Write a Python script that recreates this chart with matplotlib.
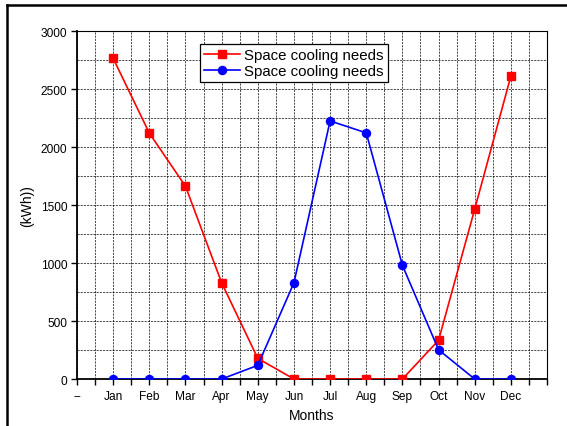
import numpy as np
import matplotlib
matplotlib.use("Agg")
import matplotlib.pyplot as plt
from matplotlib.lines import Line2D

plt.rcParams['font.family'] = ['Liberation Sans', 'DejaVu Sans']

# ---- Data ---- #
months = ["Jan", "Feb", "Mar", "Apr", "May", "Jun",
          "Jul", "Aug", "Sep", "Oct", "Nov", "Dec"]
tick_labels = ["--"] + months + [""]
red_needs = [2765, 2120, 1662, 830, 178, 0, 0, 0, 0, 334, 1465, 2612]
blue_needs = [0, 0, 0, 0, 118, 830, 2225, 2122, 980, 252, 0, 0]
series_label = "Space cooling needs"

fig = plt.figure(figsize=(5.67, 4.27), dpi=100)
ax = fig.add_axes([0.1358, 0.110, 0.829, 0.815])

x = np.arange(1, len(months) + 1)
ax.plot(x, red_needs, color="red", marker="s", markersize=5.5, lw=1.2,
        label=series_label, zorder=3)
ax.plot(x, blue_needs, color="blue", marker="o", markersize=5.8, lw=1.2,
        label=series_label, zorder=3)

ax.set_xlim(0, 13)
ax.set_ylim(0, 3000)
ax.set_xticks(np.arange(0, 14))
ax.set_xticklabels(tick_labels)
ax.set_xticks(np.arange(0.5, 13, 1), minor=True)
ax.set_yticks(np.arange(0, 3001, 500))
ax.set_yticks(np.arange(250, 3000, 500), minor=True)

grid_style = dict(color="black", linestyle=(0, (3, 1.6)), linewidth=0.5)
ax.grid(True, which="both", **grid_style)
ax.set_axisbelow(True)

ax.tick_params(axis="x", which="both", direction="out", length=4, width=1,
               labelsize=8.6, pad=4)
ax.tick_params(axis="y", which="major", direction="out", length=4, width=1,
               labelsize=8.6, pad=3)
ax.tick_params(axis="y", which="minor", length=0)

for s in ["left", "bottom"]:
    ax.spines[s].set_linewidth(1.3)
for s in ["right", "top"]:
    ax.spines[s].set_linewidth(0.8)

ax.set_xlabel("Months", fontsize=10, labelpad=4)
ax.set_ylabel("(kWh))", fontsize=10, labelpad=5)

leg = ax.legend(loc="upper left", bbox_to_anchor=(200 / 567, 1 - 45 / 427),
                bbox_transform=fig.transFigure, fontsize=10.8, fancybox=False,
                framealpha=1, edgecolor="black", handlelength=2.4,
                borderpad=0.25, labelspacing=0.15, handletextpad=0.3,
                borderaxespad=0)
leg.get_frame().set_linewidth(0.9)

# outer frame (left and top edges)
fig.add_artist(Line2D([7 / 567, 7 / 567], [0, 1 - 6 / 427], color="black",
                      lw=1.8, transform=fig.transFigure))
fig.add_artist(Line2D([7 / 567, 1], [1 - 6 / 427, 1 - 6 / 427], color="black",
                      lw=1.8, transform=fig.transFigure))

plt.savefig("out.png", dpi=100)
plt.close()
